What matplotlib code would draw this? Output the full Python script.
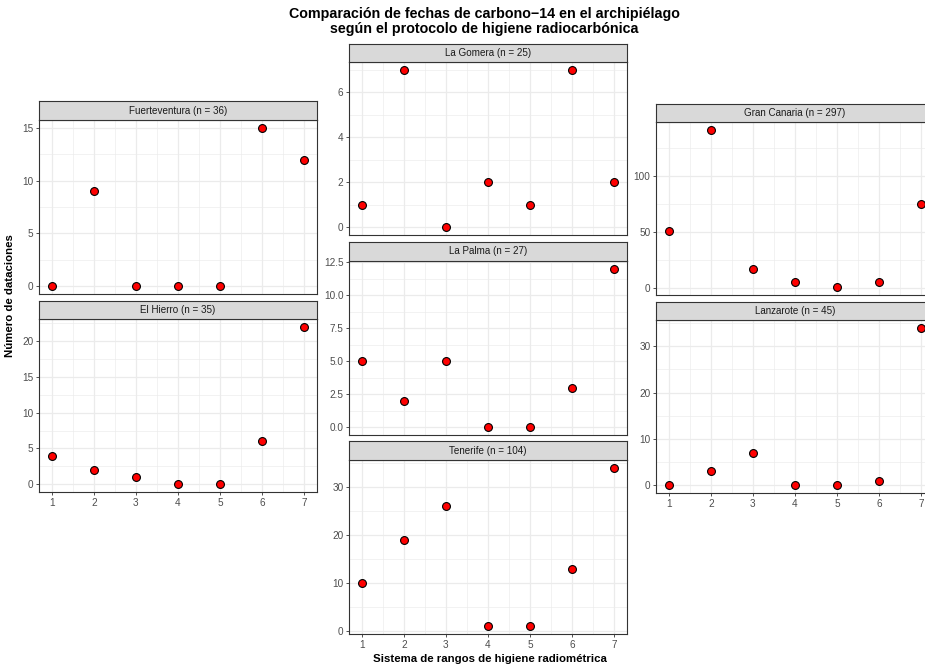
import matplotlib
matplotlib.use("Agg")
import matplotlib.pyplot as plt
from matplotlib.ticker import MultipleLocator, AutoMinorLocator
import numpy as np

plt.rcParams['font.family'] = ['Liberation Sans', 'DejaVu Sans']

# ---- data ----
ranks = [1, 2, 3, 4, 5, 6, 7]
islands = ["Fuerteventura", "El Hierro", "La Gomera", "La Palma", "Tenerife",
           "Gran Canaria", "Lanzarote"]
n_labels = [36, 35, 25, 27, 104, 297, 45]
fuerteventura = [0, 9, 0, 0, 0, 15, 12]
el_hierro = [4, 2, 1, 0, 0, 6, 22]
la_gomera = [1, 7, 0, 2, 1, 7, 2]
la_palma = [5, 2, 5, 0, 0, 3, 12]
tenerife = [10, 19, 26, 1, 1, 13, 34]
gran_canaria = [51, 141, 17, 6, 1, 6, 75]
lanzarote = [0, 3, 7, 0, 0, 1, 34]
values = [fuerteventura, el_hierro, la_gomera, la_palma, tenerife,
          gran_canaria, lanzarote]
y_steps = [5, 5, 2, 2.5, 10, 50, 10]

title = "Comparación de fechas de carbono\u221214 en el archipiélago\nsegún el protocolo de higiene radiocarbónica"
xlabel = "Sistema de rangos de higiene radiométrica"
ylabel = "Número de dataciones"

# ---- layout (pixels) ----
W, H = 925, 666
fig = plt.figure(figsize=(W / 100, H / 100), dpi=100)

# (x0, x1, strip_top, plot_top, plot_bottom, show_x)
boxes = [
    (39, 317, 101, 120, 294, False),
    (39, 317, 301, 319, 492, True),
    (349, 627, 44, 62, 235, False),
    (349, 627, 242, 261, 435, False),
    (349, 627, 441, 460, 634, True),
    (656, 934, 104, 122, 295, False),
    (656, 934, 302, 320, 493, True),
]

def frac(x0, x1, ytop, ybot):
    return [x0 / W, 1 - ybot / H, (x1 - x0) / W, (ybot - ytop) / H]

border = "#333333"
for name, n, vals, step, (x0, x1, st, pt, pb, showx) in zip(
        islands, n_labels, values, y_steps, boxes):
    ax = fig.add_axes(frac(x0, x1, pt, pb))
    ax.set_facecolor("white")
    ax.scatter(ranks, vals, s=32, facecolor="#FF0000", edgecolor="black",
               linewidth=0.8, zorder=3, clip_on=False)
    lo, hi = min(vals), max(vals)
    pad = (hi - lo) * 0.05
    ax.set_ylim(lo - pad, hi + pad)
    ax.set_xlim(0.7, 7.3)
    ax.yaxis.set_major_locator(MultipleLocator(step))
    ax.yaxis.set_minor_locator(AutoMinorLocator(2))
    ax.xaxis.set_major_locator(MultipleLocator(1))
    ax.xaxis.set_minor_locator(AutoMinorLocator(2))
    if step == 2.5:
        ax.yaxis.set_major_formatter(matplotlib.ticker.FormatStrFormatter('%.1f'))
    else:
        ax.yaxis.set_major_formatter(matplotlib.ticker.FormatStrFormatter('%d'))
    ax.grid(True, which="major", color="#EBEBEB", linewidth=0.9, zorder=0)
    ax.grid(True, which="minor", color="#EBEBEB", linewidth=0.45, zorder=0)
    ax.set_axisbelow(True)
    for sp in ax.spines.values():
        sp.set_color(border)
        sp.set_linewidth(0.8)
    ax.tick_params(axis="both", which="major", length=2.5, width=0.6,
                   color=border, labelsize=7.2, labelcolor="#4D4D4D", pad=1.5)
    ax.tick_params(axis="both", which="minor", length=0)
    if not showx:
        ax.tick_params(axis="x", which="major", length=0, labelbottom=False)

    sax = fig.add_axes(frac(x0, x1, st, pt))
    sax.set_facecolor("#D9D9D9")
    sax.set_xticks([]); sax.set_yticks([])
    for sp in sax.spines.values():
        sp.set_color(border)
        sp.set_linewidth(0.8)
    sax.text(0.5, 0.5, f"{name} (n = {n})", ha="center", va="center",
             fontsize=7.1, color="#1A1A1A", transform=sax.transAxes)

fig.text(484 / W, 1 - 7 / H, title, ha="center", va="top", fontsize=10.3,
         fontweight="bold", linespacing=1.05)
fig.text(490 / W, 1 - 659 / H, xlabel, ha="center", va="center", fontsize=8.2,
         fontweight="bold")
fig.text(10 / W, 1 - 296 / H, ylabel, ha="center", va="center", fontsize=8.2,
         fontweight="bold", rotation=90)

fig.savefig("out.png", dpi=100)
